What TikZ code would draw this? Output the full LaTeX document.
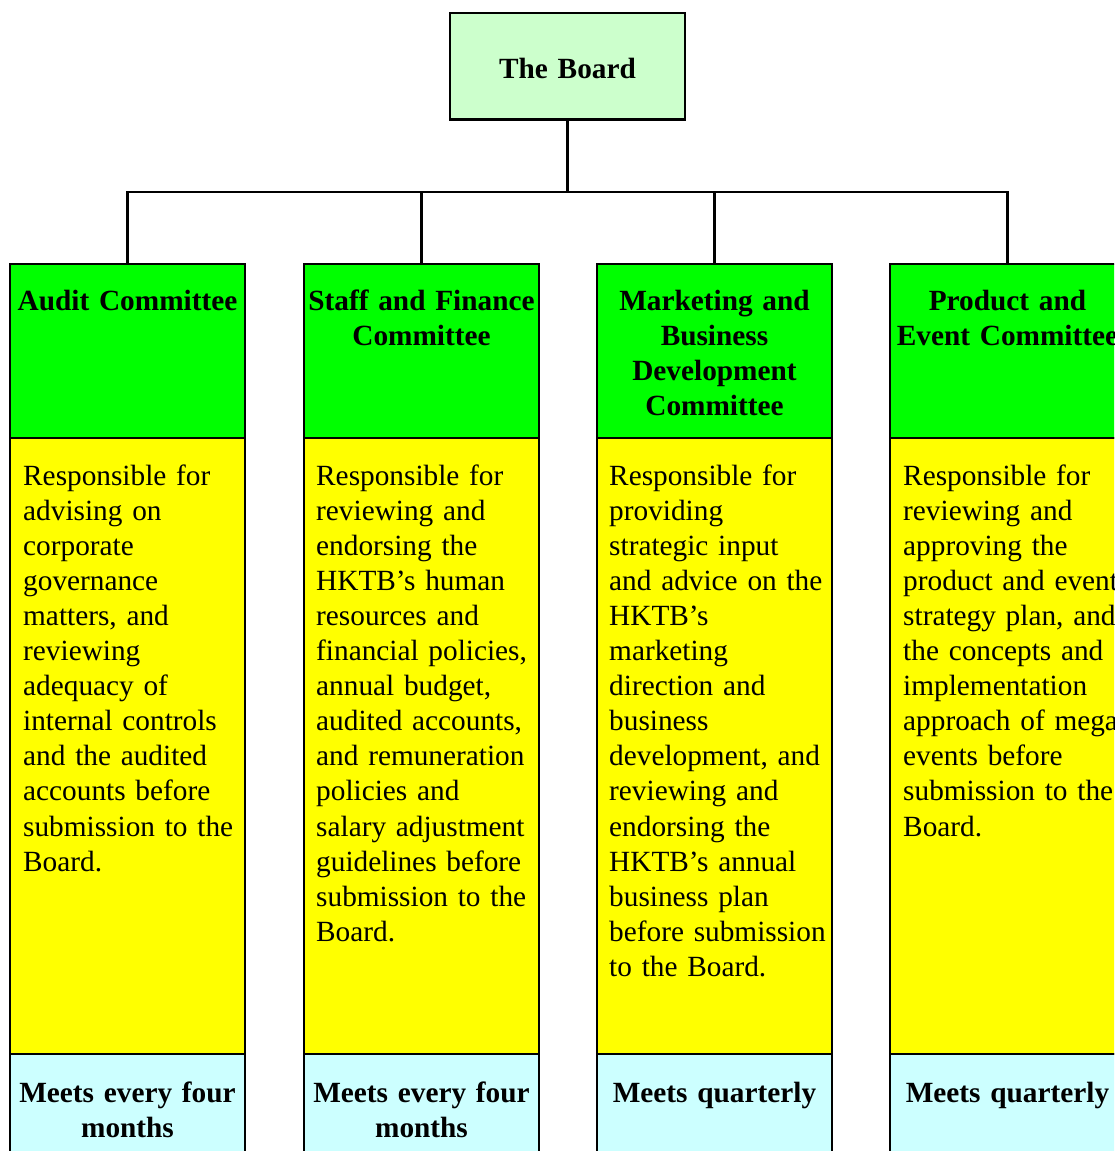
\documentclass[tikz,border=0pt]{standalone}
\usepackage{fontspec}
\setmainfont{Liberation Serif}
\definecolor{boardfill}{HTML}{CCFFCC}
\definecolor{headfill}{HTML}{00FF00}
\definecolor{bodyfill}{HTML}{FFFF00}
\definecolor{footfill}{HTML}{CCFFFF}
\begin{document}
\begin{tikzpicture}[x=1pt,y=-1pt,
  boxshape/.style={draw=black, line width=2.4pt, rectangle, inner sep=0pt, outer sep=0pt, minimum width=235pt},
  headbox/.style={boxshape, fill=headfill, minimum height=174pt},
  bodybox/.style={boxshape, fill=bodyfill, minimum height=616pt},
  footbox/.style={boxshape, fill=footfill, minimum height=126pt},
  conn/.style={draw=black, line width=2.4pt},
  bodytext/.style={anchor=base west, inner sep=0pt, text width=225pt, align=left,
    font=\fontsize{29.3}{35.1}\selectfont},
  headtext/.style={anchor=base, inner sep=0pt, text width=260pt, align=center,
    font=\fontsize{29.3}{35.3}\selectfont\bfseries},
]
\useasboundingbox (0,0) rectangle (1114,1151);
\clip (0,0) rectangle (1114,1151);

% Board
\node[boxshape, fill=boardfill, minimum height=106.5pt] (board) at (567.5,66.25) {};
\node[headtext] (boardtxt) at (567.5,78.5) {The Board};

% columns
\foreach \i/\cx in {1/127.5,2/421.5,3/714.5,4/1007.5}{
  \node[bodybox] (b\i) at (\cx,746) {};
  \node[headbox] (h\i) at (\cx,351) {};
  \node[footbox] (f\i) at (\cx,1117) {};
}

% connectors
\coordinate (bus) at (567.5,192);
\draw[conn] (board.south) -- (bus);
\draw[conn] (h1.north) -- (h1.north |- bus) -- (h4.north |- bus) -- (h4.north);
\draw[conn] (h2.north) -- (h2.north |- bus);
\draw[conn] (h3.north) -- (h3.north |- bus);

% header texts
\node[headtext] (ht1) at (127.5,310) {Audit Committee};
\node[headtext] (ht2) at (421.5,310) {Staff and Finance\\Committee};
\node[headtext] (ht3) at (714.5,310) {Marketing and\\Business\\Development\\Committee};
\node[headtext] (ht4) at (1007.5,310) {Product and\\Event Committee};

% body texts
\node[bodytext] (bt1) at (23,485) {Responsible for\\advising on\\corporate\\governance\\matters, and\\reviewing\\adequacy of\\internal controls\\and the audited\\accounts before\\submission to the\\Board.};
\node[bodytext] (bt2) at (316,485) {Responsible for\\reviewing and\\endorsing the\\HKTB’s human\\resources and\\financial policies,\\annual budget,\\audited accounts,\\and remuneration\\policies and\\salary adjustment\\guidelines before\\submission to the\\Board.};
\node[bodytext] (bt3) at (609,485) {Responsible for\\providing\\strategic input\\and advice on the\\HKTB’s\\marketing\\direction and\\business\\development, and\\reviewing and\\endorsing the\\HKTB’s annual\\business plan\\before submission\\to the Board.};
\node[bodytext] (bt4) at (903,485) {Responsible for\\reviewing and\\approving the\\product and event\\strategy plan, and\\the concepts and\\implementation\\approach of mega\\events before\\submission to the\\Board.};

% footer texts
\node[headtext] (ft1) at (127.5,1102) {Meets every four\\months};
\node[headtext] (ft2) at (421.5,1102) {Meets every four\\months};
\node[headtext] (ft3) at (714.5,1102) {Meets quarterly};
\node[headtext] (ft4) at (1007.5,1102) {Meets quarterly};
\end{tikzpicture}
\end{document}
